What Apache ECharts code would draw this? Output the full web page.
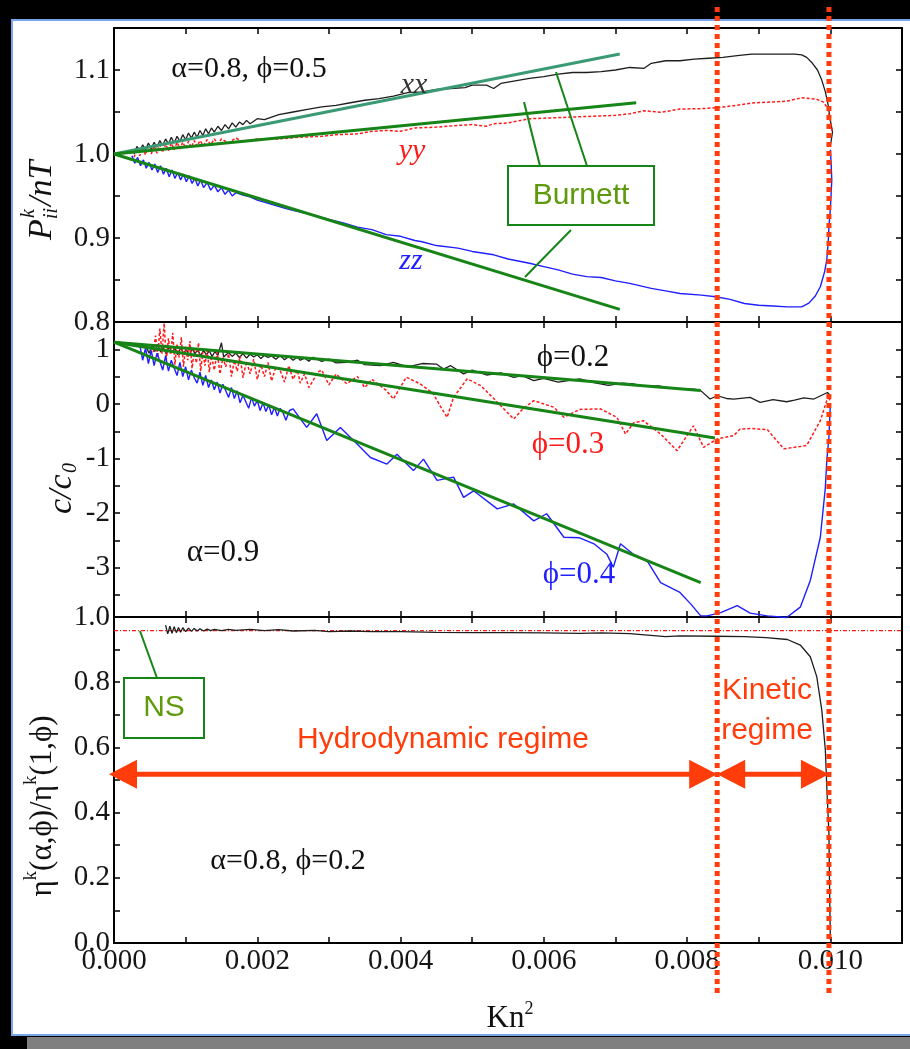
<!DOCTYPE html>
<html><head><meta charset="utf-8">
<script src="https://cdn.jsdelivr.net/npm/echarts@6/dist/echarts.min.js"></script>
<style>html,body{margin:0;padding:0;background:#000;}#c{width:910px;height:1049px;}</style>
</head><body><div id="c"></div>
<script>
// ---------------- DATA ----------------
const xLabelValues = [0, 0.002, 0.004, 0.006, 0.008, 0.010];
const topLabels = [0.8, 0.9, 1.0, 1.1];
const topTicks = [0.85, 0.9, 0.95, 1.0, 1.05, 1.1];
const midLabels = [-3, -2, -1, 0, 1];
const midTicks = [-3.5, -3, -2.5, -2, -1.5, -1, -0.5, 0, 0.5, 1];
const botLabels = [0, 0.2, 0.4, 0.6, 0.8, 1.0];
const botTicks = [0.1, 0.2, 0.3, 0.4, 0.5, 0.6, 0.7, 0.8, 0.9];

// top panel: P_ii^k / nT
const pxx = [[0.00028,1.000],[0.00032,1.009],[0.00036,1.003],[0.0004,1.011],[0.00044,1.005],[0.00048,1.013],[0.00052,1.006],[0.00056,1.014],[0.0006,1.008],[0.00064,1.016],[0.00068,1.010],[0.00072,1.018],[0.00076,1.012],[0.0008,1.020],[0.00084,1.013],[0.00088,1.021],[0.00092,1.015],[0.00096,1.023],[0.001,1.017],[0.00104,1.025],[0.00108,1.019],[0.00112,1.026],[0.00116,1.020],[0.0012,1.028],[0.00124,1.022],[0.00128,1.030],[0.00132,1.024],[0.00136,1.031],[0.0014,1.026],[0.00145,1.033],[0.0015,1.028],[0.00155,1.035],[0.0016,1.030],[0.00165,1.037],[0.0017,1.032],[0.00175,1.038],[0.0018,1.035],[0.00185,1.040],[0.0019,1.036],[0.002,1.042],[0.0021,1.041],[0.0023,1.047],[0.0025,1.050],[0.0027,1.053],[0.0029,1.056],[0.0031,1.058],[0.0033,1.061],[0.0035,1.064],[0.0037,1.066],[0.0039,1.069],[0.0041,1.073],[0.0043,1.074],[0.0045,1.077],[0.0047,1.078],[0.0049,1.079],[0.0050,1.082],[0.0052,1.082],[0.0053,1.078],[0.0054,1.084],[0.0056,1.087],[0.0058,1.090],[0.0060,1.092],[0.0062,1.095],[0.0064,1.097],[0.0066,1.097],[0.0068,1.098],[0.0070,1.100],[0.0072,1.103],[0.0074,1.102],[0.0075,1.108],[0.0077,1.111],[0.0079,1.111],[0.0081,1.113],[0.0083,1.114],[0.0085,1.115],[0.0087,1.117],[0.0089,1.119],[0.0091,1.119],[0.0093,1.119],[0.0095,1.119],[0.0096,1.118],[0.00967,1.115],[0.00975,1.108],[0.00982,1.100],[0.00988,1.088],[0.00993,1.074],[0.00997,1.058],[0.0100,1.040],[0.01003,1.026],[0.01001,1.015],[0.0100,1.010]];
const pyy = [[0.00028,0.996],[0.00032,1.006],[0.00036,0.998],[0.0004,1.008],[0.00044,0.999],[0.00048,1.009],[0.00052,1.000],[0.00056,1.010],[0.0006,1.001],[0.00064,1.011],[0.00068,1.002],[0.00072,1.012],[0.00076,1.004],[0.0008,1.013],[0.00084,1.005],[0.00088,1.014],[0.00092,1.006],[0.00096,1.014],[0.001,1.007],[0.00104,1.015],[0.00108,1.008],[0.00112,1.016],[0.00116,1.009],[0.0012,1.016],[0.00125,1.010],[0.0013,1.017],[0.00135,1.011],[0.0014,1.018],[0.00145,1.012],[0.0015,1.018],[0.0016,1.013],[0.0017,1.019],[0.0018,1.015],[0.002,1.018],[0.0023,1.018],[0.0026,1.020],[0.0029,1.021],[0.0031,1.023],[0.0034,1.024],[0.0036,1.027],[0.0038,1.028],[0.0040,1.027],[0.0042,1.031],[0.0045,1.032],[0.0048,1.034],[0.0050,1.035],[0.0052,1.033],[0.0053,1.036],[0.0055,1.037],[0.0058,1.042],[0.0061,1.043],[0.0064,1.044],[0.0067,1.045],[0.0070,1.046],[0.0072,1.048],[0.0074,1.0515],[0.00763,1.0496],[0.0079,1.0535],[0.0082,1.054],[0.0084,1.055],[0.00865,1.0575],[0.0089,1.0607],[0.0092,1.062],[0.0094,1.063],[0.0096,1.067],[0.0098,1.0654],[0.0099,1.062],[0.00996,1.055],[0.0100,1.040],[0.01003,1.025]];
const pzz = [[0.00025,0.998],[0.00029,0.989],[0.00033,0.996],[0.00037,0.986],[0.00041,0.993],[0.00045,0.983],[0.00049,0.990],[0.00053,0.981],[0.00057,0.988],[0.00061,0.978],[0.00065,0.986],[0.00069,0.976],[0.00073,0.983],[0.00077,0.973],[0.00081,0.981],[0.00085,0.971],[0.00089,0.978],[0.00093,0.969],[0.00097,0.976],[0.00101,0.967],[0.00105,0.974],[0.00109,0.965],[0.00113,0.971],[0.00117,0.962],[0.00121,0.969],[0.00125,0.960],[0.0013,0.966],[0.00135,0.957],[0.0014,0.963],[0.00145,0.955],[0.0015,0.960],[0.00155,0.952],[0.0016,0.957],[0.00165,0.950],[0.0017,0.954],[0.0018,0.951],[0.0019,0.949],[0.002,0.945],[0.0022,0.940],[0.0024,0.935],[0.0026,0.931],[0.0028,0.927],[0.003,0.922],[0.0032,0.918],[0.0034,0.913],[0.0036,0.910],[0.0038,0.904],[0.0040,0.902],[0.0042,0.897],[0.0043,0.8955],[0.0045,0.891],[0.0048,0.888],[0.005,0.884],[0.0053,0.880],[0.0055,0.875],[0.0058,0.870],[0.0060,0.866],[0.0062,0.862],[0.0064,0.857],[0.0066,0.854],[0.0068,0.853],[0.0070,0.849],[0.0072,0.846],[0.0075,0.840],[0.0077,0.837],[0.0079,0.834],[0.0082,0.832],[0.0084,0.830],[0.0086,0.827],[0.0088,0.822],[0.009,0.820],[0.0092,0.819],[0.0094,0.818],[0.0096,0.818],[0.0097,0.8225],[0.00979,0.831],[0.00986,0.842],[0.00992,0.860],[0.00995,0.874],[0.00997,0.895],[0.00998,0.913],[0.0100,0.935],[0.01002,0.969],[0.01001,0.990],[0.0100,1.005]];
const burnettXX = [[0,1.0],[0.00706,1.119]];
const burnettYY = [[0,1.0],[0.00729,1.061]];
const burnettZZ = [[0,1.0],[0.00706,0.815]];

// middle panel: c / c0
const c02 = [[0.00045,1.04],[0.00049,0.93],[0.00053,1.06],[0.00057,0.96],[0.00061,1.09],[0.00065,0.95],[0.00069,1.03],[0.00073,0.91],[0.00077,1.05],[0.00081,0.94],[0.00085,1.02],[0.00089,0.90],[0.00093,1.03],[0.00097,0.93],[0.00101,1.00],[0.00105,0.89],[0.00109,1.01],[0.00113,0.92],[0.00117,0.99],[0.00121,0.88],[0.00125,0.98],[0.00129,0.90],[0.00133,0.97],[0.00137,0.87],[0.00141,0.96],[0.00145,0.89],[0.0015,1.12],[0.00153,0.86],[0.0016,0.94],[0.00165,0.87],[0.0017,0.93],[0.00175,0.85],[0.0018,0.92],[0.00185,0.84],[0.0019,0.91],[0.00195,0.86],[0.002,0.90],[0.00205,0.83],[0.0021,0.89],[0.00215,0.85],[0.0022,0.88],[0.00226,0.82],[0.00232,0.885],[0.00238,0.81],[0.00244,0.87],[0.0025,0.80],[0.00256,0.86],[0.0026,0.80],[0.00266,0.84],[0.00272,0.78],[0.00278,0.853],[0.0029,0.78],[0.003,0.82],[0.0031,0.75],[0.00325,0.762],[0.0034,0.80],[0.0035,0.72],[0.00372,0.70],[0.0039,0.76],[0.0041,0.68],[0.0043,0.74],[0.0045,0.73],[0.0046,0.64],[0.0047,0.70],[0.00488,0.55],[0.005,0.62],[0.0052,0.53],[0.0054,0.57],[0.00558,0.487],[0.0057,0.52],[0.00586,0.427],[0.006,0.47],[0.0062,0.40],[0.0065,0.458],[0.0067,0.39],[0.0069,0.34],[0.0071,0.38],[0.00725,0.366],[0.0074,0.32],[0.0076,0.33],[0.00772,0.304],[0.0079,0.275],[0.0081,0.27],[0.00819,0.244],[0.00832,0.09],[0.00842,0.15],[0.00855,0.10],[0.00865,0.09],[0.00888,0.12],[0.00902,0.03],[0.0092,0.08],[0.00939,0.04],[0.0095,0.07],[0.00963,0.11],[0.00977,0.09],[0.00996,0.21],[0.0100,0.15]];
const c03 = [[0.00055,0.95],[0.00058,1.25],[0.00061,0.85],[0.00064,1.38],[0.00067,0.92],[0.0007,1.48],[0.00073,0.80],[0.00076,1.20],[0.00079,0.90],[0.00082,1.30],[0.00085,0.72],[0.00088,1.10],[0.00091,0.85],[0.00094,1.22],[0.00097,0.68],[0.001,1.05],[0.00103,0.80],[0.00106,1.15],[0.00109,0.65],[0.00112,0.98],[0.00115,0.75],[0.00118,1.12],[0.00121,0.60],[0.00124,0.95],[0.00127,0.70],[0.0013,1.02],[0.00133,0.58],[0.00136,0.88],[0.0014,0.62],[0.00144,0.95],[0.00148,0.55],[0.00152,0.85],[0.00156,0.68],[0.0016,0.92],[0.00164,0.50],[0.00168,0.80],[0.00172,0.60],[0.00176,0.88],[0.0018,0.48],[0.00185,0.78],[0.0019,0.55],[0.00195,0.82],[0.002,0.45],[0.00205,0.72],[0.0021,0.50],[0.00215,0.76],[0.0022,0.42],[0.00226,0.68],[0.00232,0.61],[0.00238,0.40],[0.00244,0.70],[0.0025,0.45],[0.00256,0.62],[0.0026,0.38],[0.00266,0.55],[0.00272,0.30],[0.00278,0.43],[0.00284,0.58],[0.0029,0.62],[0.003,0.35],[0.0031,0.55],[0.00325,0.37],[0.0034,0.50],[0.0035,0.30],[0.0036,0.45],[0.0038,0.25],[0.0039,0.09],[0.00408,0.49],[0.00427,0.37],[0.00445,0.20],[0.00455,-0.03],[0.00465,-0.245],[0.00474,0.12],[0.00493,0.46],[0.00512,0.335],[0.0053,0.10],[0.00558,-0.275],[0.0057,-0.10],[0.00586,0.06],[0.00614,-0.06],[0.00628,-0.245],[0.0065,-0.10],[0.00679,-0.09],[0.00702,-0.245],[0.00714,-0.55],[0.00725,-0.35],[0.00739,-0.306],[0.0075,-0.42],[0.00763,-0.55],[0.00786,-0.855],[0.00809,-0.40],[0.00823,-0.795],[0.00842,-0.64],[0.00865,-0.58],[0.00874,-0.46],[0.0089,-0.45],[0.00912,-0.47],[0.00935,-0.82],[0.00958,-0.78],[0.00967,-0.76],[0.00986,-0.306],[0.00995,0.06],[0.0100,0.09]];
const c04 = [[0.00036,1.08],[0.0004,0.80],[0.00044,1.02],[0.00048,0.74],[0.00052,0.98],[0.00056,0.70],[0.0006,0.93],[0.00064,0.78],[0.00068,0.62],[0.00072,0.88],[0.00076,0.60],[0.0008,0.80],[0.00084,0.66],[0.00088,0.52],[0.00092,0.76],[0.00096,0.50],[0.001,0.68],[0.00104,0.44],[0.00108,0.62],[0.00112,0.48],[0.00116,0.38],[0.0012,0.58],[0.00124,0.34],[0.00128,0.52],[0.00132,0.30],[0.00136,0.44],[0.0014,0.26],[0.00144,0.40],[0.00148,0.20],[0.00152,0.36],[0.00156,0.24],[0.0016,0.12],[0.00164,0.30],[0.00168,0.10],[0.00172,0.24],[0.00176,0.02],[0.0018,0.16],[0.00184,0.04],[0.00188,-0.08],[0.00192,0.12],[0.00196,-0.04],[0.002,0.06],[0.00204,-0.12],[0.00208,0.02],[0.00212,-0.14],[0.00216,-0.02],[0.0022,-0.20],[0.00224,-0.06],[0.00228,-0.22],[0.00232,-0.08],[0.00236,-0.16],[0.0024,-0.30],[0.00245,-0.12],[0.0025,-0.09],[0.00269,-0.43],[0.00283,-0.18],[0.00297,-0.67],[0.00316,-0.43],[0.00339,-0.73],[0.00358,-0.98],[0.00381,-1.10],[0.00395,-0.92],[0.00418,-1.22],[0.00432,-1.01],[0.00451,-1.40],[0.00474,-1.34],[0.00488,-1.71],[0.00502,-1.59],[0.00535,-1.92],[0.00558,-1.83],[0.00586,-2.14],[0.00604,-2.01],[0.00628,-2.44],[0.0065,-2.45],[0.0067,-2.56],[0.00688,-2.75],[0.00697,-2.99],[0.00707,-2.56],[0.00725,-2.75],[0.00744,-2.87],[0.00763,-3.27],[0.0079,-3.45],[0.00805,-3.66],[0.00819,-3.88],[0.00828,-3.88],[0.00847,-3.82],[0.0087,-3.69],[0.00888,-3.83],[0.00912,-3.88],[0.00939,-3.91],[0.00958,-3.72],[0.00972,-3.23],[0.00986,-2.44],[0.00993,-1.53],[0.00995,-1.04],[0.00998,-0.61],[0.0100,0.0]];
const burnettC02 = [[0,1.13],[0.00819,0.244]];
const burnettC03 = [[0,1.13],[0.00839,-0.623]];
const burnettC04 = [[0,1.13],[0.00819,-3.27]];

// bottom panel: eta ratio
const etaData = [[0.00072,0.975],[0.00075,0.948],[0.00078,0.972],[0.00081,0.950],[0.00084,0.970],[0.00087,0.952],[0.0009,0.968],[0.00093,0.953],[0.00096,0.967],[0.001,0.955],[0.00104,0.966],[0.00108,0.956],[0.00112,0.965],[0.00116,0.957],[0.0012,0.964],[0.00125,0.957],[0.0013,0.963],[0.00135,0.958],[0.0014,0.962],[0.0015,0.958],[0.0016,0.962],[0.0017,0.959],[0.0019,0.962],[0.0021,0.958],[0.0023,0.961],[0.0025,0.957],[0.0028,0.959],[0.003,0.955],[0.0033,0.957],[0.0036,0.955],[0.004,0.955],[0.0045,0.953],[0.005,0.952],[0.0055,0.952],[0.006,0.951],[0.0065,0.950],[0.0068,0.951],[0.0072,0.949],[0.0077,0.940],[0.0079,0.942],[0.0084,0.941],[0.0088,0.940],[0.0091,0.937],[0.0094,0.931],[0.00958,0.914],[0.00972,0.878],[0.00981,0.817],[0.00988,0.715],[0.00993,0.592],[0.00995,0.479],[0.00998,0.336],[0.00999,0.15],[0.0100,0.009]];
const nsLevel = [[0,0.958],[0.011,0.958]];

// regime boundaries (Kn^2) and arrows
const regimeBounds = [0.00842, 0.00998];
const hydroRange = [-0.00007, 0.00842];
const kineticRange = [0.00842, 0.00998];
const regimeArrowY = 0.518;

// ---------------- CHART ----------------
const SERIF = '"Liberation Serif","Times New Roman",serif';
const SANS = '"Liberation Sans",Arial,sans-serif';
const ORANGE = '#ff3c0a';
const GREEN = '#168416';
const TEAL = '#3a9a74';
const OLIVE = '#5e9a0c';
const chart = echarts.init(document.getElementById('c'));

const panels = [
  {top:28, height:294, min:0.8, max:1.15, labels:topLabels, ticks:topTicks, fmt:v=>v.toFixed(1)},
  {top:322, height:295, min:-3.9, max:1.5, labels:midLabels, ticks:midTicks, fmt:v=>String(Math.round(v))},
  {top:617, height:326, min:0, max:1.0, labels:botLabels, ticks:botTicks, fmt:v=>v.toFixed(1)}
];
const grids = panels.map(p => ({left:114, right:8, top:p.top, height:p.height, containLabel:false}));
grids.push({left:114, right:8, top:5, bottom:56});

const axLine = {show:true, onZero:false, lineStyle:{color:'#000', width:2}};
const tickStyle = {color:'#000', width:1.5};
const xAxes = [], yAxes = [];
panels.forEach((p, i) => {
  ['bottom','top'].forEach(pos => {
    xAxes.push({type:'value', gridIndex:i, position:pos, min:0, max:0.011, interval:0.001,
      axisLine:axLine, splitLine:{show:false},
      axisTick:{show:true, inside:true, length:6, lineStyle:tickStyle},
      axisLabel:(i===2 && pos==='bottom') ? {show:true, customValues:xLabelValues, formatter:v=>v.toFixed(3),
        fontFamily:SERIF, fontSize:29, color:'#151515', margin:4} : {show:false}});
  });
  ['left','right'].forEach(pos => {
    yAxes.push({type:'value', gridIndex:i, position:pos, min:p.min, max:p.max,
      axisLine:axLine, splitLine:{show:false},
      axisTick:{show:true, inside:true, length:6, customValues:p.ticks, lineStyle:tickStyle},
      axisLabel:pos==='left' ? {show:true, customValues:p.labels, formatter:p.fmt,
        fontFamily:SERIF, fontSize:29, color:'#151515', margin:4} : {show:false}});
  });
});
xAxes.push({type:'value', gridIndex:3, min:0, max:0.011, show:false});
yAxes.push({type:'value', gridIndex:3, min:0, max:1, show:false});

function ln(data, panel, color, width, type, z) {
  return {type:'line', data, xAxisIndex:panel*2, yAxisIndex:panel*2, showSymbol:false, symbol:'none',
    animation:false, clip:false, z:z||2, lineStyle:{color, width, type:type||'solid'}};
}
const series = [
  ln(pxx, 0, '#1e1e1e', 1.3),
  ln(pyy, 0, '#ff1a1a', 1.5, [3,2]),
  ln(pzz, 0, '#1f1fff', 1.4),
  ln(burnettXX, 0, TEAL, 3, 'solid', 5),
  ln(burnettYY, 0, GREEN, 3, 'solid', 5),
  ln(burnettZZ, 0, GREEN, 3, 'solid', 5),
  ln(c02, 1, '#1e1e1e', 1.3),
  ln(c03, 1, '#ff1a1a', 1.5, [3,2]),
  ln(c04, 1, '#1f1fff', 1.4),
  ln(burnettC02, 1, GREEN, 3, 'solid', 5),
  ln(burnettC03, 1, GREEN, 3, 'solid', 5),
  ln(burnettC04, 1, GREEN, 3, 'solid', 5),
  ln(nsLevel, 2, '#ff1a1a', 1.3, [4,2,1,2]),
  ln(etaData, 2, '#1e1e1e', 1.3)
];
regimeBounds.forEach(b => {
  series.push({type:'line', data:[[b,0],[b,1]], xAxisIndex:6, yAxisIndex:6, showSymbol:false, symbol:'none',
    animation:false, z:20, lineStyle:{color:ORANGE, width:5, type:[5,4], cap:'butt'}});
});

chart.setOption({backgroundColor:'#000', animation:false, grid:grids, xAxis:xAxes, yAxis:yAxes, series});

// ---------- annotations ----------
function txt(x, y, text, font, fill, extra) {
  return Object.assign({type:'text', x, y, z:30, style:{text, font, fill, textAlign:'center', align:'center',
    textVerticalAlign:'middle', verticalAlign:'middle'}}, extra||{});
}
function seg(x1, y1, x2, y2, color, w) {
  return {type:'line', z:30, shape:{x1, y1, x2, y2}, style:{stroke:color, lineWidth:w}};
}
const g = [];
// background frame
g.push({type:'rect', z:-100, shape:{x:12, y:20, width:905, height:1015}, style:{fill:'#fff', stroke:'#78a4ec', lineWidth:2}});
g.push({type:'rect', z:-100, shape:{x:27, y:1037, width:890, height:14}, style:{fill:'#7f7f7f'}});

// top panel texts
g.push(txt(249, 69, 'α=0.8, ϕ=0.5', '30px ' + SERIF, '#111'));
g.push(txt(414, 85, 'xx', 'italic 30px ' + SERIF, '#333'));
g.push(txt(412, 151, 'yy', 'italic 30px ' + SERIF, '#ff1a1a'));
g.push(txt(411, 261, 'zz', 'italic 30px ' + SERIF, '#1f1fff'));
g.push({type:'rect', z:30, shape:{x:508, y:166, width:146, height:59}, style:{fill:'#fff', stroke:GREEN, lineWidth:2}});
g.push(txt(581, 196, 'Burnett', '30px ' + SANS, OLIVE));
g.push(seg(540, 166, 524, 102, GREEN, 2));
g.push(seg(587, 166, 556, 72, GREEN, 2));
g.push(seg(571, 230, 525, 277, GREEN, 2));
// middle panel texts
g.push(txt(573, 358, 'ϕ=0.2', '31px ' + SERIF, '#111'));
g.push(txt(568, 445, 'ϕ=0.3', '31px ' + SERIF, '#ff1a1a'));
g.push(txt(579, 575, 'ϕ=0.4', '31px ' + SERIF, '#1f1fff'));
g.push(txt(223, 553, 'α=0.9', '31px ' + SERIF, '#111'));
// bottom panel texts
g.push(txt(288, 861, 'α=0.8, ϕ=0.2', '30px ' + SERIF, '#111'));
g.push({type:'rect', z:30, shape:{x:124, y:678, width:80, height:60}, style:{fill:'#fff', stroke:GREEN, lineWidth:2}});
g.push(txt(164, 708, 'NS', '30px ' + SANS, OLIVE));
g.push(seg(157, 678, 140, 631, GREEN, 2));
g.push(txt(443, 740, 'Hydrodynamic regime', '30px ' + SANS, ORANGE));
g.push(txt(767, 691, 'Kinetic', '30px ' + SANS, ORANGE));
g.push(txt(767, 731, 'regime', '30px ' + SANS, ORANGE));

// axis titles
const it = s => 'italic ' + s + 'px ' + SERIF;
g.push({type:'group', x:42, y:200, rotation:Math.PI/2, z:30, children:[
  {type:'text', x:-40, y:0, style:{text:'P', font:it(34), fill:'#111', align:'left', textAlign:'left', verticalAlign:'middle', textVerticalAlign:'middle'}},
  {type:'text', x:-18, y:-13, style:{text:'k', font:it(20), fill:'#111', align:'left', textAlign:'left', verticalAlign:'middle', textVerticalAlign:'middle'}},
  {type:'text', x:-19, y:10, style:{text:'ii', font:it(20), fill:'#111', align:'left', textAlign:'left', verticalAlign:'middle', textVerticalAlign:'middle'}},
  {type:'text', x:-6, y:0, style:{text:'/nT', font:it(34), fill:'#111', align:'left', textAlign:'left', verticalAlign:'middle', textVerticalAlign:'middle'}}
]});
g.push({type:'group', x:62, y:488, rotation:Math.PI/2, z:30, children:[
  {type:'text', x:-26, y:0, style:{text:'c/c', font:it(34), fill:'#111', align:'left', textAlign:'left', verticalAlign:'middle', textVerticalAlign:'middle'}},
  {type:'text', x:15, y:9, style:{text:'0', font:it(20), fill:'#111', align:'left', textAlign:'left', verticalAlign:'middle', textVerticalAlign:'middle'}}
]});
g.push({type:'text', x:40, y:806, rotation:Math.PI/2, z:30, style:{
  text:'{m|η}{s|k}{m|(α,ϕ)/η}{s|k}{m|(1,ϕ)}', align:'center', textAlign:'center', verticalAlign:'middle', textVerticalAlign:'middle',
  rich:{m:{font:'31px ' + SERIF, fill:'#111', color:'#111', lineHeight:36, verticalAlign:'bottom'},
        s:{font:'19px ' + SERIF, fill:'#111', color:'#111', lineHeight:36, verticalAlign:'top'}}}});
g.push({type:'text', x:510, y:1017, z:30, style:{
  text:'{m|Kn}{s|2}', align:'center', textAlign:'center', verticalAlign:'middle', textVerticalAlign:'middle',
  rich:{m:{font:'31px ' + SERIF, fill:'#111', color:'#111', lineHeight:34, verticalAlign:'bottom'},
        s:{font:'18px ' + SERIF, fill:'#111', color:'#111', lineHeight:34, verticalAlign:'top'}}}});

// regime arrows (positions through the bottom panel's scales)
const H = 28, W = 14.5;
function arrow(range) {
  const a = chart.convertToPixel({gridIndex:2}, [range[0], regimeArrowY]);
  const b = chart.convertToPixel({gridIndex:2}, [range[1], regimeArrowY]);
  const y = a[1], xa = a[0], xb = b[0];
  return [
    {type:'rect', z:31, shape:{x:xa + H - 1, y:y - 2.5, width:xb - xa - 2*H + 2, height:5}, style:{fill:ORANGE}},
    {type:'polygon', z:31, shape:{points:[[xa, y],[xa + H, y - W],[xa + H, y + W]]}, style:{fill:ORANGE}},
    {type:'polygon', z:31, shape:{points:[[xb, y],[xb - H, y - W],[xb - H, y + W]]}, style:{fill:ORANGE}}
  ];
}
g.push(...arrow(hydroRange));
g.push(...arrow(kineticRange));

chart.setOption({graphic:g});
</script></body></html>
